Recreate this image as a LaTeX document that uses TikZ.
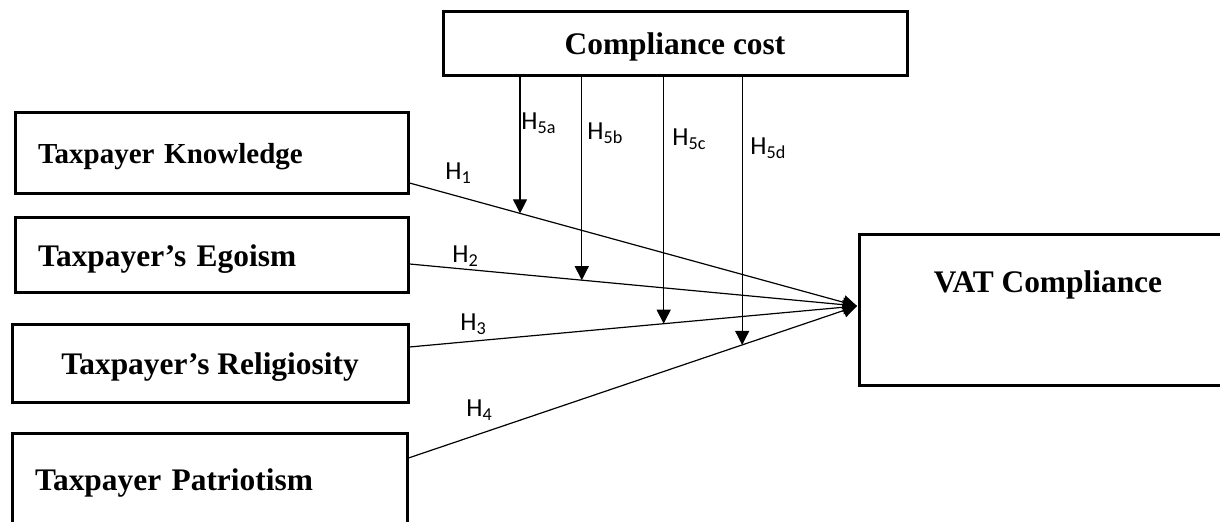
\documentclass[tikz,border=0pt]{standalone}
\usepackage{fontspec}
\setmainfont{Liberation Serif}
\newfontfamily\hypfont{Carlito}
\usetikzlibrary{arrows.meta}
\usetikzlibrary{positioning}
\usetikzlibrary{calc}

\begin{document}
\begin{tikzpicture} [x = 0.5pt, y = -0.5pt,
    title/.style = {font = \bfseries\fontsize{15.7}{18}\selectfont, text depth = 0pt},
    box/.style = {title, draw, line width = 1.5pt, inner xsep = 11.5pt},
    leftbox/.style = {box, align = left},
    link/.style = {line width = 0.6pt, -{Triangle[width = 7pt, length = 7pt]}},
    hyp/.style = {font = \hypfont\fontsize{13}{15}\selectfont,
        anchor = west, inner sep = 0pt}]

\useasboundingbox (0,0) rectangle (1220,522);

% moderator
\node [box, minimum width = 232pt, minimum height = 32pt] (cost) at (675,44) {Compliance cost};

% predictors
\node [leftbox, text width = 173.5pt, minimum height = 40.5pt,
    font = \bfseries\fontsize{14.5}{17}\selectfont] (know) at (211.5,153.5) {Taxpayer Knowledge};
\node [leftbox, text width = 173.5pt, minimum height = 37.5pt] (ego) at (211.5,255.5) {Taxpayer’s Egoism};
\node [box, minimum width = 198pt, minimum height = 39pt] (rel) at (210,364) {Taxpayer’s Religiosity};
\node [leftbox, text width = 174.5pt, minimum height = 46pt] (pat) at (209.5,480) {Taxpayer Patriotism};

% outcome
\node [box, minimum width = 183pt, minimum height = 75.5pt] (vat) at (1042,310.5) {};
\node [title] (vatname) at (1048,282) {VAT Compliance};

% line ends
\coordinate (hub) at (857,306);
\coordinate (kout) at ([yshift = -14.75pt] know.east);
\coordinate (eout) at ([yshift = -4.25pt] ego.east);
\coordinate (rout) at ([yshift = 8.5pt] rel.east);
\coordinate (pout) at ([yshift = 11pt] pat.east);

% direct paths
\draw [link] (kout) -- coordinate [pos = 0.247] (m1) (hub);
\draw [link] (eout) -- coordinate [pos = 0.385] (m2) (hub);
\draw [link] (rout) -- coordinate [pos = 0.568] (m3) (hub);
\draw [link] (pout) -- coordinate [pos = 0.744] (m4) (hub);

% moderating paths
\draw [link] (cost.south -| m1) -- (m1);
\draw [link] (cost.south -| m2) -- (m2);
\draw [link] (cost.south -| m3) -- (m3);
\draw [link] (cost.south -| m4) -- (m4);

% labels
\node [hyp] (h1) at (445,173) {H\textsubscript{1}};
\node [hyp] (h2) at (452,256) {H\textsubscript{2}};
\node [hyp] (h3) at (460,324) {H\textsubscript{3}};
\node [hyp] (h4) at (466,410) {H\textsubscript{4}};
\node [hyp] (h5a) at (521,123) {H\textsubscript{5a}};
\node [hyp] (h5b) at (587,133) {H\textsubscript{5b}};
\node [hyp] (h5c) at (672,139) {H\textsubscript{5c}};
\node [hyp] (h5d) at (750,148) {H\textsubscript{5d}};

\end{tikzpicture}
\end{document}
